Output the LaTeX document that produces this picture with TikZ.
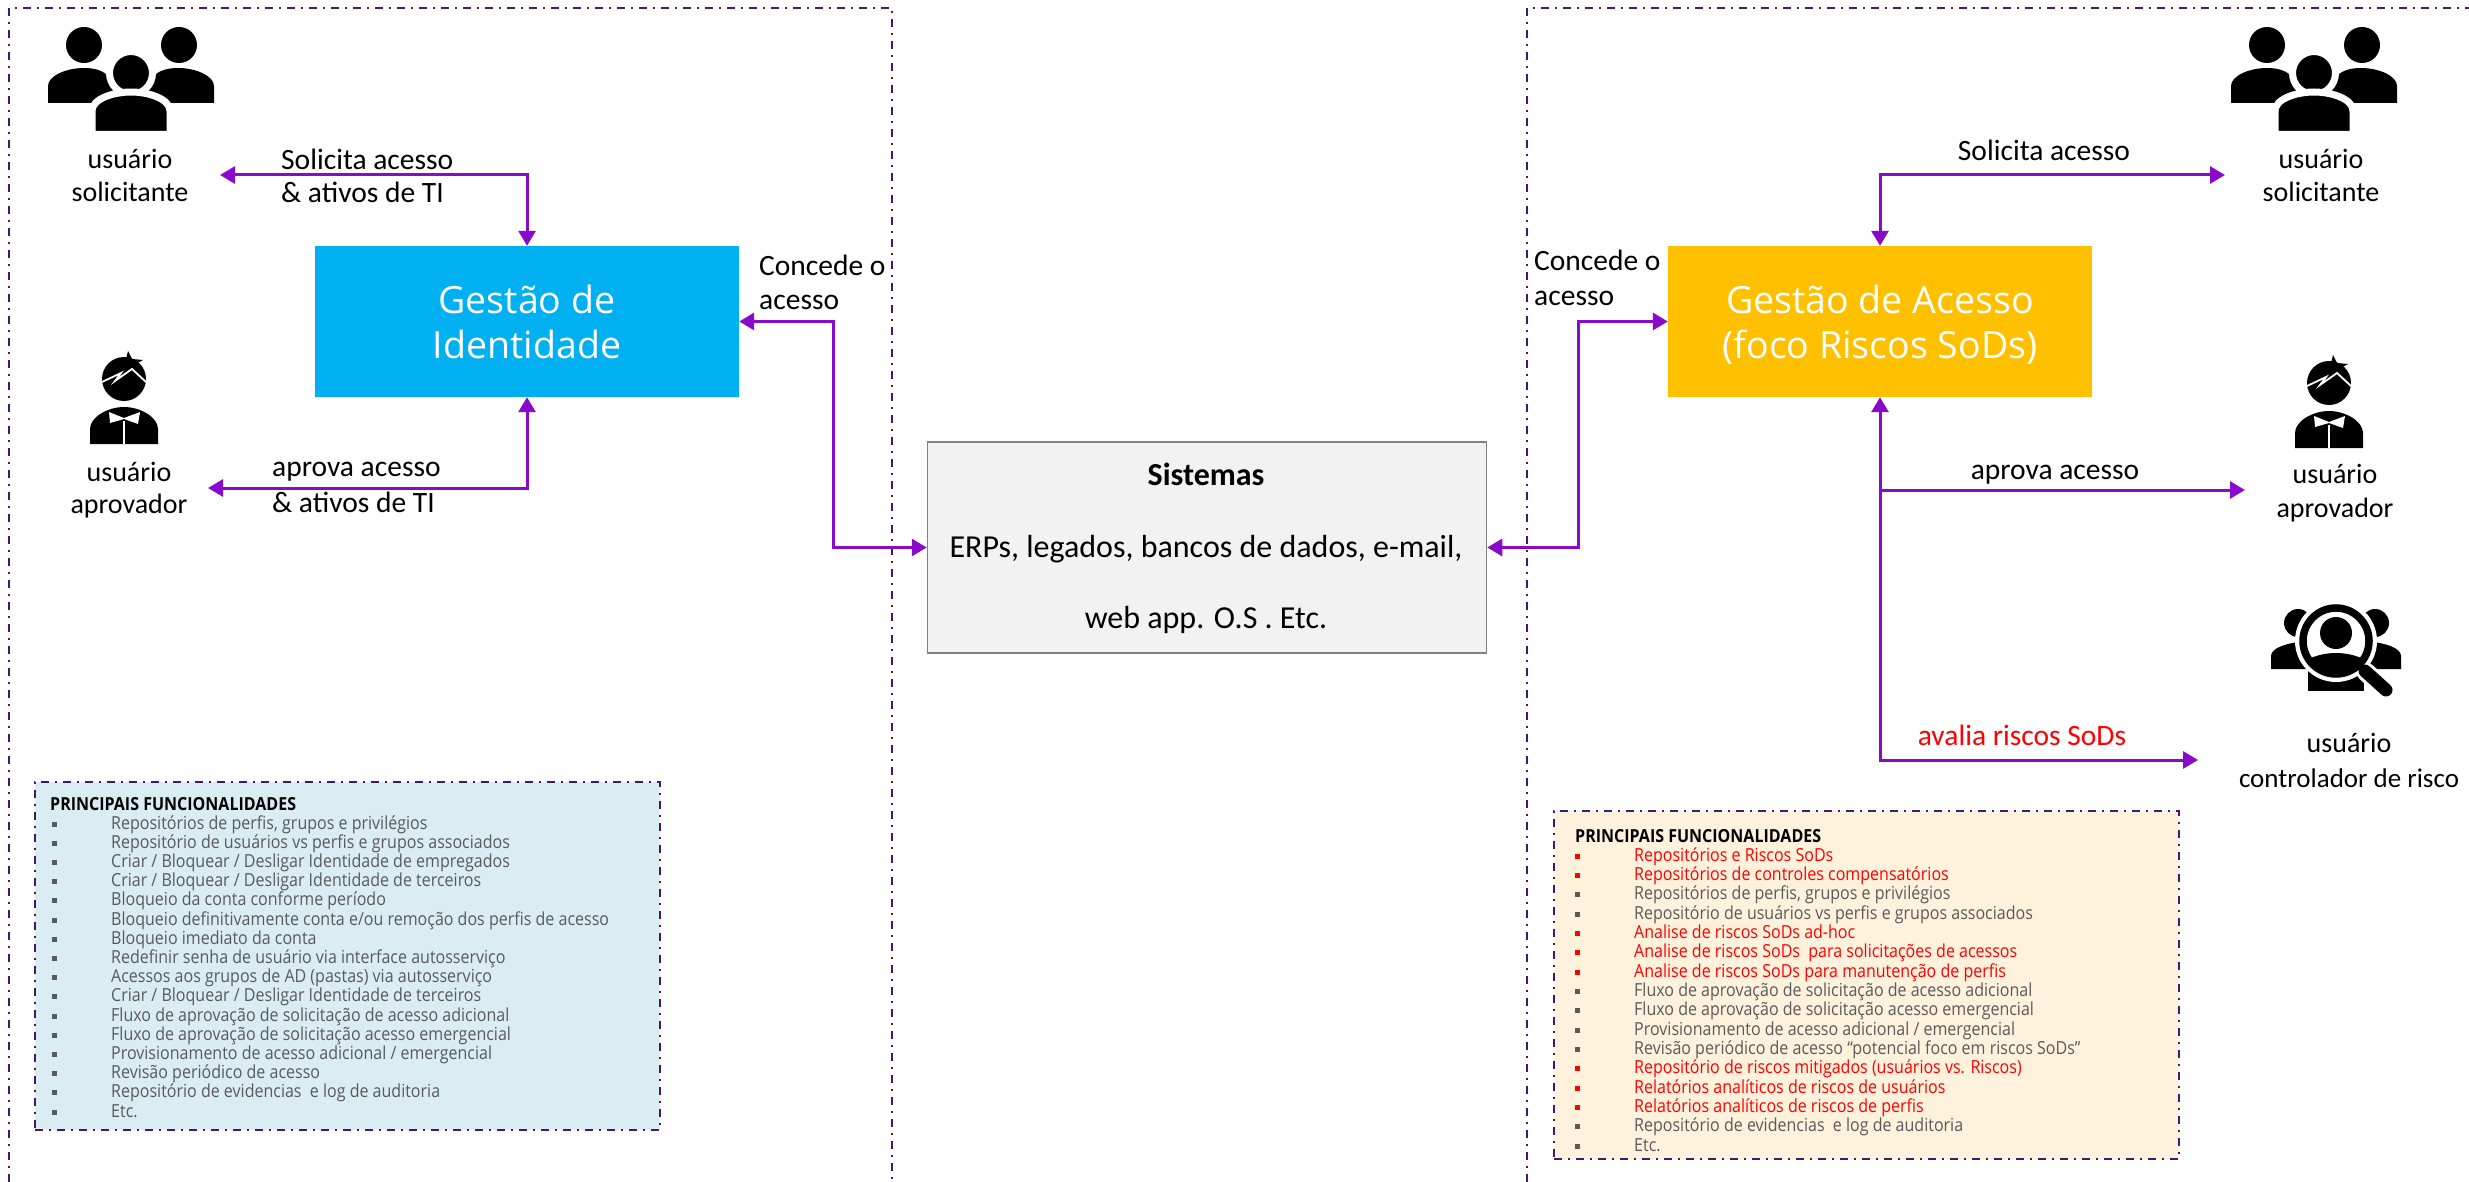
\documentclass[tikz,border=0pt]{standalone}
\usepackage{fontspec}
\setmainfont{Carlito}
\newfontfamily\fontcaixa{Open Sans}
\newfontfamily\fontitem[FakeStretch=0.89]{Open Sans}
\usetikzlibrary{arrows.meta}
\definecolor{roxolinha}{HTML}{8A0ACC}
\definecolor{roxoframe}{HTML}{45186E}
\definecolor{azulcaixa}{HTML}{00B0F0}
\definecolor{amarelocaixa}{HTML}{FFC000}
\definecolor{cinzatexto}{HTML}{5A5A5A}
\definecolor{azulfundo}{HTML}{DAEDF3}
\definecolor{cremefundo}{HTML}{FEF2DC}
\tikzset{
    frame/.style={draw=roxoframe,line width=2pt,dash pattern=on 8pt off 6pt on 2pt off 6pt},
    duplo/.style={draw=roxolinha,line width=3pt,{Triangle[length=15pt,width=17pt]}-{Triangle[length=15pt,width=17pt]}},
    sai/.style={draw=roxolinha,line width=3pt,-{Triangle[length=15pt,width=17pt]}},
    usuario/.style={inner sep=0pt,font=\fontsize{28}{34}\selectfont},
    rotulo/.style={inner sep=0pt,font=\fontsize{29.5}{35}\selectfont},
    sistema/.style={inner sep=0pt,font=\fontsize{32}{38}\selectfont},
    caixa/.style={inner sep=0pt,minimum width=424pt,minimum height=151pt,text=white,align=center,
        font=\fontcaixa\fontsize{37.5}{45}\selectfont},
    lista/.style={inner sep=0pt,minimum width=625pt,minimum height=348pt,frame},
    titulo/.style={inner sep=0pt,anchor=west,font=\fontitem\bfseries\fontsize{18}{21}\selectfont},
    bolinha/.style={inner sep=0pt,minimum size=5pt,fill=#1},
    itemg/.style={inner sep=0pt,anchor=west,text height=14pt,text depth=4pt,text=cinzatexto,
        font=\fontitem\fontsize{18}{21}\selectfont,
        label={[bolinha=cinzatexto,label distance=54pt]left:{}}},
    itemr/.style={itemg,text=red,label={[bolinha=red,label distance=54pt]left:{}}},
    pics/grupo/.style={code={
        \fill (-47,-34) circle (18pt);
        \fill (48,-34) circle (18pt);
        \fill (-83,24) -- (-83,7) .. controls (-83,-3) and (-65,-11) .. (-47,-11) .. controls (-29,-11) and (-15,-4) .. (-11,24) -- cycle;
        \fill (83,24) -- (83,7) .. controls (83,-3) and (65,-11) .. (47,-11) .. controls (29,-11) and (15,-4) .. (11,24) -- cycle;
        \filldraw[draw=white,line width=7pt] (0,-6) circle (21.5pt);
        \filldraw[draw=white,line width=7pt] (-39,55.5) -- (-39,32) .. controls (-39,20) and (-18,13) .. (0,13) .. controls (18,13) and (39,20) .. (39,32) -- (39,55.5) -- cycle;
    }},
    pics/aprovador/.style={code={
        \fill (0,-18) circle (22pt);
        \fill (2,-38) -- (4,-46) -- (8,-38) -- (19,-37) -- (10,-32) -- (0,-32) -- cycle;
        \draw[white,line width=1.8pt] (-22,-15) -- (-3,-24) -- (-9,-16) -- (8,-28) -- (22,-15);
        \fill (-34,47) -- (-34,32) .. controls (-34,20) and (-16,10) .. (0,10) .. controls (16,10) and (34,20) .. (34,32) -- (34,47) -- cycle;
        \fill[white] (-15,15) -- (0,21) -- (16,15) -- (14,27) -- (0,22) -- (-14,26) -- cycle;
        \draw[white,line width=1.5pt] (0,24) -- (0,47);
    }},
    pics/lupa/.style={code={
        \fill (-38,-18) circle (14pt);
        \fill (39,-18) circle (14pt);
        \fill (-65,28) -- (-65,15) .. controls (-65,7) and (-50,2) .. (-30,0) -- (-25,28) -- cycle;
        \fill (65,28) -- (65,15) .. controls (65,7) and (50,2) .. (30,0) -- (25,28) -- cycle;
        \fill (-28,50) -- (-28,30) -- (28,30) -- (28,50) -- cycle;
        \fill[white] (0,0) circle (41pt);
        \draw[white,line width=19pt,line cap=round] (30,31) -- (50,49);
        \draw[line width=7.5pt] (0,0) circle (33pt);
        \draw[line width=13pt,line cap=round] (29,30) -- (50,49);
        \fill (0,-8) circle (16pt);
        \begin{scope}
            \clip (0,0) circle (30pt);
            \fill (-40,40) -- (-40,24) .. controls (-24,15) and (-12,12) .. (0,12) .. controls (12,12) and (24,15) .. (40,24) -- (40,40) -- cycle;
        \end{scope}
    }}
}
\begin{document}
\begin{tikzpicture}[x=1pt,y=-1pt]
    \useasboundingbox (0,0) rectangle (2469,1182);

    \draw[frame] (9,1182) -- (9,8) -- (892,8) -- (892,1182);
    \draw[frame] (1527,1182) -- (1527,8) -- (2469,8);

    \node[caixa,fill=azulcaixa] (gi) at (527,321.5) {Gestão de\\Identidade};
    \node[caixa,fill=amarelocaixa] (ga) at (1880,321.5) {Gestão de Acesso\\\raisebox{0pt}[\height][0pt]{(foco Riscos SoDs)}};
    \node[inner sep=0pt,minimum width=559pt,minimum height=211pt,draw=black!50,line width=1.5pt,fill=black!5] (sis) at (1207,547.5) {};
    \node[sistema,font=\fontsize{32}{38}\selectfont\bfseries] (sis1) at (1206,474) {Sistemas};
    \node[sistema] (sis2) at (1206,549) {ERPs, legados, bancos de dados, e-mail,};
    \node[sistema] (sis3) at (1206,620) {web app. O.S . Etc.};

    \pic at (131,79) {grupo};
    \pic at (2314,79) {grupo};
    \pic at (124,397) {aprovador};
    \pic at (2329,401) {aprovador};
    \pic at (2336,641) {lupa};

    \node[usuario] (us1) at (130,159) {usuário};
    \node[usuario] (us2) at (130,192) {solicitante};
    \node[usuario] (ua1) at (129,472) {usuário};
    \node[usuario] (ua2) at (129,506) {aprovador};
    \node[usuario] (ds1) at (2321,159) {usuário};
    \node[usuario] (ds2) at (2321,192) {solicitante};
    \node[usuario] (da1) at (2335,474) {usuário};
    \node[usuario] (da2) at (2335,510) {aprovador};
    \node[usuario] (dc1) at (2349,743) {usuário};
    \node[usuario,font=\fontsize{27}{33}\selectfont] (dc2) at (2349,778) {controlador de risco};

    \node[rotulo,anchor=west] (ls1) at (281,159) {Solicita acesso};
    \node[rotulo,anchor=west] (ls2) at (281,192) {\& ativos de TI};
    \node[rotulo,anchor=west] (la1) at (272,472) {aprova acesso};
    \node[rotulo,anchor=west] (la2) at (272,502) {\& ativos de TI};
    \node[rotulo,anchor=west] (lc1) at (759,265) {Concede o};
    \node[rotulo,anchor=west] (lc2) at (759,302) {acesso};
    \node[rotulo,anchor=west] (rc1) at (1534,260) {Concede o};
    \node[rotulo,anchor=west] (rc2) at (1534,298) {acesso};
    \node[rotulo] (rs1) at (2044,150) {Solicita acesso};
    \node[rotulo] (ra1) at (2055,475) {aprova acesso};
    \node[rotulo,text=red] (rr1) at (2022,735) {avalia riscos SoDs};

    \coordinate (pls) at (220,175);
    \coordinate (pla) at (208,488);
    \coordinate (jl) at (833,321.5);
    \coordinate (jr) at (1578,321.5);
    \coordinate (prs) at (2225,175);
    \coordinate (pra) at (2245,490);
    \coordinate (prr) at (2198,760);

    \draw[duplo] (pls) -| (gi.north);
    \draw[duplo] (pla) -| (gi.south);
    \draw[duplo] (gi.east) -- (jl) |- (sis.west);
    \draw[duplo] (sis.east) -| (jr) -- (ga.west);
    \draw[duplo] (ga.north) |- (prs);
    \draw[duplo] (ga.south) |- (prr);
    \draw[sai] (ga.south |- pra) -- (pra);

    \node[lista,fill=azulfundo] (fl) at (347.5,955.5) {};
    \node[titulo] (tl) at (50,804) {PRINCIPAIS FUNCIONALIDADES};
    \node[itemg] (l1) at (111,824) {Repositórios de perfis, grupos e privilégios};
    \node[itemg] (l2) at (111,843.2) {Repositório de usuários vs perfis e grupos associados};
    \node[itemg] (l3) at (111,862.4) {Criar / Bloquear / Desligar Identidade de empregados};
    \node[itemg] (l4) at (111,881.6) {Criar / Bloquear / Desligar Identidade de terceiros};
    \node[itemg] (l5) at (111,900.8) {Bloqueio da conta conforme período};
    \node[itemg] (l6) at (111,920) {Bloqueio definitivamente conta e/ou remoção dos perfis de acesso};
    \node[itemg] (l7) at (111,939.2) {Bloqueio imediato da conta};
    \node[itemg] (l8) at (111,958.4) {Redefinir senha de usuário via interface autosserviço};
    \node[itemg] (l9) at (111,977.6) {Acessos aos grupos de AD (pastas) via autosserviço};
    \node[itemg] (l10) at (111,996.8) {Criar / Bloquear / Desligar Identidade de terceiros};
    \node[itemg] (l11) at (111,1016) {Fluxo de aprovação de solicitação de acesso adicional};
    \node[itemg] (l12) at (111,1035.2) {Fluxo de aprovação de solicitação acesso emergencial};
    \node[itemg] (l13) at (111,1054.4) {Provisionamento de acesso adicional / emergencial};
    \node[itemg] (l14) at (111,1073.6) {Revisão periódico de acesso};
    \node[itemg] (l15) at (111,1092.8) {Repositório de evidencias~ e log de auditoria};
    \node[itemg] (l16) at (111,1112) {Etc.};

    \node[lista,fill=cremefundo] (fr) at (1866.5,984.5) {};
    \node[titulo] (tr) at (1575,836) {PRINCIPAIS FUNCIONALIDADES};
    \node[itemr] (r1) at (1634,856) {Repositórios e Riscos SoDs};
    \node[itemr] (r2) at (1634,875.3) {Repositórios de controles compensatórios};
    \node[itemg] (r3) at (1634,894.7) {Repositórios de perfis, grupos e privilégios};
    \node[itemg] (r4) at (1634,914) {Repositório de usuários vs perfis e grupos associados};
    \node[itemr] (r5) at (1634,933.3) {Analise de riscos SoDs ad-hoc};
    \node[itemr] (r6) at (1634,952.7) {Analise de riscos SoDs~ para solicitações de acessos};
    \node[itemr] (r7) at (1634,972) {Analise de riscos SoDs para manutenção de perfis};
    \node[itemg] (r8) at (1634,991.3) {Fluxo de aprovação de solicitação de acesso adicional};
    \node[itemg] (r9) at (1634,1010.7) {Fluxo de aprovação de solicitação acesso emergencial};
    \node[itemg] (r10) at (1634,1030) {Provisionamento de acesso adicional / emergencial};
    \node[itemg] (r11) at (1634,1049.3) {Revisão periódico de acesso “potencial foco em riscos SoDs”};
    \node[itemr] (r12) at (1634,1068.7) {Repositório de riscos mitigados (usuários vs. Riscos)};
    \node[itemr] (r13) at (1634,1088) {Relatórios analíticos de riscos de usuários};
    \node[itemr] (r14) at (1634,1107.3) {Relatórios analíticos de riscos de perfis};
    \node[itemg] (r15) at (1634,1126.7) {Repositório de evidencias~ e log de auditoria};
    \node[itemg] (r16) at (1634,1146) {Etc.};
\end{tikzpicture}
\end{document}
